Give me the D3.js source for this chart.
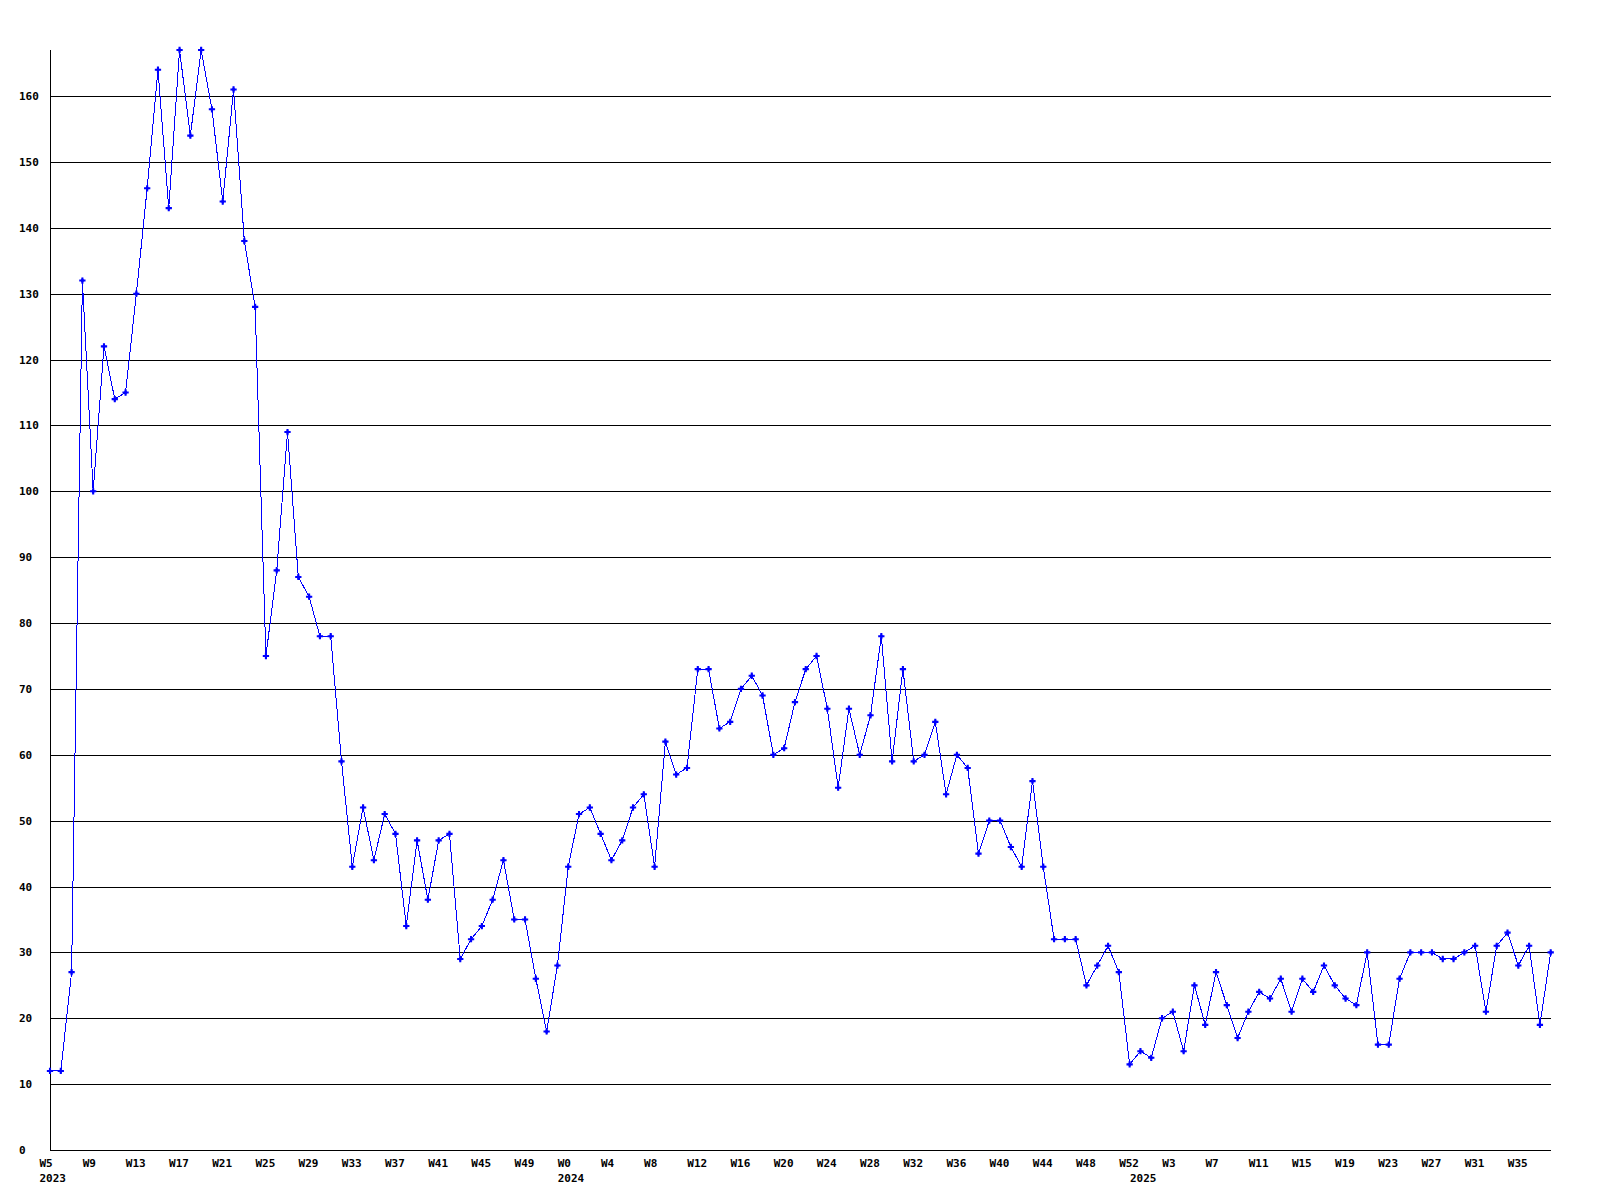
<!DOCTYPE html>
<html>
<head>
<meta charset="utf-8">
<title>Weekly count</title>
<script src="https://d3js.org/d3.v7.min.js"></script>
<style>
  body { margin: 0; background: #fff; }
  svg { display: block; }
  text { font-family: "DejaVu Sans Mono", "Liberation Mono", monospace; font-weight: bold; font-size: 11px; fill: #000; }
</style>
</head>
<body>
<svg></svg>
<script>

// week numbers for each point, per year
var weeks2023 = [5,6,7,8,9,10,11,12,13,14,15,16,17,18,19,20,21,22,23,24,25,26,27,28,29,30,31,32,33,34,35,36,37,38,39,40,41,42,43,44,45,46,47,48,49,50,51,52];
var weeks2024 = [0,1,2,3,4,5,6,7,8,9,10,11,12,13,14,15,16,17,18,19,20,21,22,23,24,25,26,27,28,29,30,31,32,33,34,35,36,37,38,39,40,41,42,43,44,45,46,47,48,49,50,51,52];
var weeks2025 = [0,1,2,3,4,5,6,7,8,9,10,11,12,13,14,15,16,17,18,19,20,21,22,23,24,25,26,27,28,29,30,31,32,33,34,35,36,37,38];

var values = [12,12,27,132,100,122,114,115,130,146,
  164,143,167,154,167,158,144,161,138,128,
  75,88,109,87,84,78,78,59,43,52,
  44,51,48,34,47,38,47,48,29,32,
  34,38,44,35,35,26,18,28,43,51,
  52,48,44,47,52,54,43,62,57,58,
  73,73,64,65,70,72,69,60,61,68,
  73,75,67,55,67,60,66,78,59,73,
  59,60,65,54,60,58,45,50,50,46,
  43,56,43,32,32,32,25,28,31,27,
  13,15,14,20,21,15,25,19,27,22,
  17,21,24,23,26,21,26,24,28,25,
  23,22,30,16,16,26,30,30,30,29,
  29,30,31,21,31,33,28,31,19,30];

var xTicks = ["2023-W5","2023-W9","2023-W13","2023-W17","2023-W21","2023-W25","2023-W29","2023-W33","2023-W37","2023-W41","2023-W45","2023-W49",
  "2024-W0","2024-W4","2024-W8","2024-W12","2024-W16","2024-W20","2024-W24","2024-W28","2024-W32","2024-W36","2024-W40","2024-W44","2024-W48","2024-W52",
  "2025-W3","2025-W7","2025-W11","2025-W15","2025-W19","2025-W23","2025-W27","2025-W31","2025-W35"];
var yearLabels = ["2023","2024","2025"];
var yearStarts = ["2023-W5","2024-W0","2025-W0"];
var yTicks = [0,10,20,30,40,50,60,70,80,90,100,110,120,130,140,150,160];

var width = 1600, height = 1200;
var plotLeft = 50, plotRight = 1551, plotTop = 50, plotBottom = 1150;

var cats = [];
weeks2023.forEach(function(w) { cats.push("2023-W" + w); });
weeks2024.forEach(function(w) { cats.push("2024-W" + w); });
weeks2025.forEach(function(w) { cats.push("2025-W" + w); });

var data = cats.map(function(c, i) { return {cat: c, v: values[i]}; });

var svg = d3.select("svg").attr("width", width).attr("height", height);
svg.append("rect").attr("width", width).attr("height", height).attr("fill", "#fff");

var x = d3.scalePoint().domain(cats).range([plotLeft, plotRight - 0.3]);
var y = d3.scaleLinear().domain([0, d3.max(values)]).range([plotBottom, plotTop]);

// horizontal grid
svg.append("g").selectAll("line")
  .data(yTicks.filter(function(t) { return t > 0; }))
  .enter().append("line")
  .attr("x1", plotLeft).attr("x2", plotRight)
  .attr("y1", function(d) { return Math.round(y(d)) + 0.5; })
  .attr("y2", function(d) { return Math.round(y(d)) + 0.5; })
  .attr("stroke", "#000").attr("stroke-width", 1);

// axes lines
svg.append("line").attr("x1", plotLeft + 0.5).attr("x2", plotLeft + 0.5).attr("y1", plotTop).attr("y2", plotBottom + 1)
  .attr("stroke", "#000");
svg.append("line").attr("x1", plotLeft).attr("x2", plotRight).attr("y1", plotBottom + 0.5).attr("y2", plotBottom + 0.5)
  .attr("stroke", "#000");

// y labels
svg.append("g").selectAll("text")
  .data(yTicks).enter().append("text")
  .attr("x", 19)
  .attr("y", function(d) { return Math.round(y(d)) + 4; })
  .text(function(d) { return d; });

// x labels
svg.append("g").selectAll("text")
  .data(xTicks).enter().append("text")
  .attr("x", function(d) { return x(d) - 10.5; })
  .attr("y", 1167)
  .text(function(d) { return d.split("-")[1]; });

svg.append("g").selectAll("text")
  .data(yearLabels).enter().append("text")
  .attr("x", function(d, i) { return x(yearStarts[i]) - 10.5; })
  .attr("y", 1182)
  .text(function(d) { return d; });

// the line
var line = d3.line()
  .x(function(d) { return x(d.cat); })
  .y(function(d) { return y(d.v); });

svg.append("path")
  .datum(data)
  .attr("d", line)
  .attr("fill", "none")
  .attr("stroke", "#0000ff")
  .attr("stroke-width", 1)
  .attr("shape-rendering", "crispEdges");

// markers: cross + small diamond
var cross = d3.symbol().type(d3.symbolCross).size(22);
var diamond = d3.symbol().type(d3.symbolDiamond).size(10);
var marks = svg.append("g").selectAll("g")
  .data(data).enter().append("g")
  .attr("transform", function(d) { return "translate(" + x(d.cat) + "," + y(d.v) + ")"; })
  .attr("fill", "#0000ff");
marks.append("path").attr("d", cross);
marks.append("path").attr("d", diamond);

</script>
</body>
</html>
